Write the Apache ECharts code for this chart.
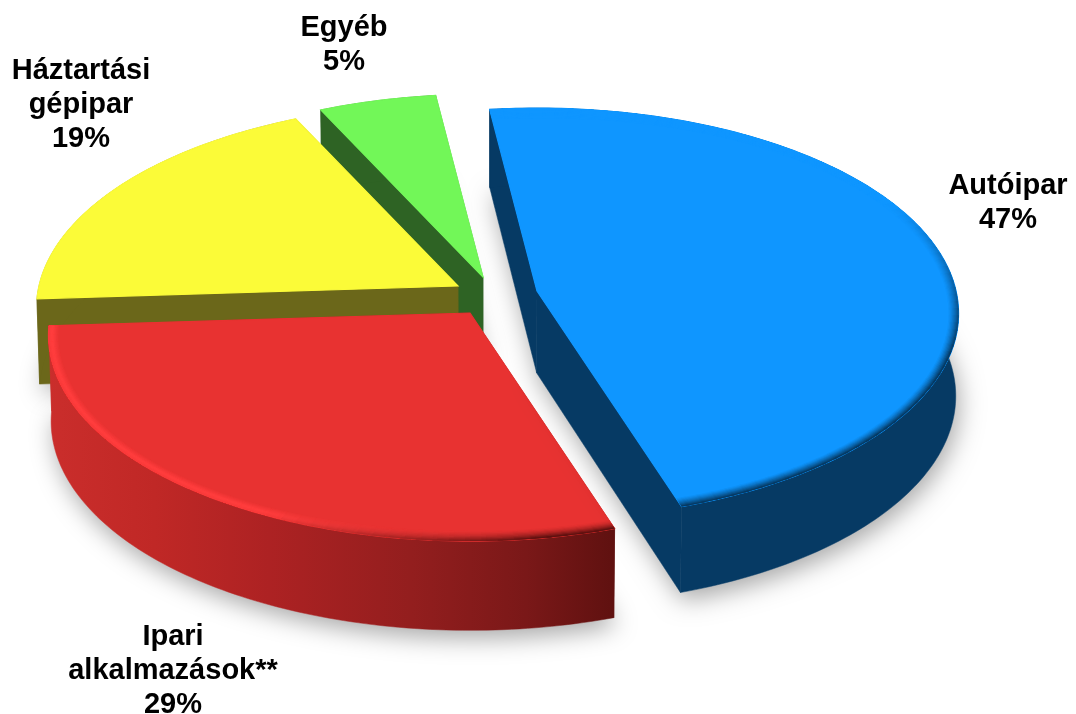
<!DOCTYPE html>
<html>
<head>
<meta charset="utf-8">
<style>html,body{margin:0;padding:0;background:#fff}#c{width:1076px;height:714px}</style>
<script src="https://cdn.jsdelivr.net/npm/echarts@6/dist/echarts.min.js"></script>
</head>
<body>
<div id="c"></div>
<script>
// ---- data
const categories = ['Autóipar', 'Ipari\nalkalmazások**', 'Háztartási\ngépipar', 'Egyéb'];
const values = [47, 29, 19, 5];
const percentLabels = ['47%', '29%', '19%', '5%'];

// ---- style
const topColors  = ['#0f96ff', '#e83231', '#fbfb38', '#72f758'];
const wallColors = ['#063a64', '#b02423', '#6b671a', '#2e6324'];
const rimColors  = ['#063a64', '#ff3d3d', null, null];
const labelCentres = [[1008, 203], [173, 671], [81, 105], [344, 45]];
const sliceOffsets = [[47, -5], [-20, 17], [-32, -10], [-7, -19]];
const sliceDepths = [82, 85, 85, 85];
const CX = 490, CY = 296, RX = 419, RY = 203, K = 0.11, START = -7.2;
const W = 1076, H = 714;

const total = values.reduce((a, b) => a + b, 0);
const starts = []; let acc = START;
values.forEach(v => { starts.push(acc); acc += v / total * 360; });

function pt(i, deg, r, down) {
  const t = deg * Math.PI / 180, u = r * Math.sin(t), v = -r * Math.cos(t), w = 1 - K * v;
  const ax = CX + sliceOffsets[i][0], ay = CY + sliceOffsets[i][1];
  let x = ax + RX * u / w, y = ay + RY * v / w;
  if (down) { x = CX + (x - CX) * 0.994; y += sliceDepths[i] * (1 + 0.05 * v); }
  return [x, y];
}
function arc(i, a0, a1, down) {
  const n = Math.max(4, Math.ceil(Math.abs(a1 - a0)));
  const out = [];
  for (let j = 0; j <= n; j++) out.push(pt(i, a0 + (a1 - a0) * j / n, 1, down));
  return out;
}
function hex(c) { return [1, 3, 5].map(p => parseInt(c.substr(p, 2), 16)); }
function mix(a, b, t) {
  t = Math.max(0, Math.min(1, t));
  const A = hex(a), B = hex(b);
  return '#' + A.map((x, j) => Math.round(x + (B[j] - x) * t).toString(16).padStart(2, '0')).join('');
}
function wallFill(i) {
  if (i !== 1) return wallColors[i];
  return new echarts.graphic.LinearGradient(40, 0, 612, 0, [
    { offset: 0, color: '#cb2e2c' },
    { offset: 0.2, color: '#c02826' },
    { offset: 0.4, color: '#ad2223' },
    { offset: 0.65, color: '#931e1e' },
    { offset: 0.85, color: '#7a1818' },
    { offset: 1, color: '#601110' }
  ], true);
}
function rimColor(i, deg, k, band) {
  const top = topColors[i], f = k / band;
  if (i === 0) {
    const a = Math.max(0, Math.min(1, (deg - 62) / 45));
    return mix(top, rimColors[0], a * Math.pow(1 - f, 1.3));
  }
  // red: bright highlight on the left, dark blur towards the right corner
  const dark = Math.max(0, Math.min(1, (205 - deg) / 35));
  const hi = f < 0.35 ? 0.75 + f : Math.max(0, (1 - f) / 0.65);
  const bright = mix(top, rimColors[1], hi * (1 - dark));
  return mix(bright, '#5f1110', Math.pow(1 - f, 1.6) * dark);
}
function renderSlice(params, api) {
  const i = api.value(0);
  const a0 = starts[i], a1 = a0 + api.value(1) / total * 360;
  const kids = [];
  const fill = wallFill(i);
  const apexT = pt(i, 0, 0, false), apexB = pt(i, 0, 0, true);
  const topArc = arc(i, a0, a1, false), botArc = arc(i, a0, a1, true);

  // soft shadow under the slice
  kids.push({ type: 'polygon', shape: { points: [apexB].concat(botArc) },
    style: { fill: '#ddd', shadowBlur: 24, shadowColor: 'rgba(0,0,0,0.34)', shadowOffsetX: 3, shadowOffsetY: 8 } });
  // side faces
  const last = topArc.length - 1;
  const face = (p, q, r, s) => ({ type: 'polygon', shape: { points: [p, q, r, s] }, style: { fill: fill, stroke: fill, lineWidth: 0.5 } });
  kids.push(face(apexT, topArc[last], botArc[last], apexB));
  kids.push(face(apexT, topArc[0], botArc[0], apexB));
  // outer wall
  kids.push({ type: 'polygon', shape: { points: topArc.concat(botArc.slice().reverse()) }, style: { fill: fill, stroke: fill, lineWidth: 0.5 } });
  // top surface
  kids.push({ type: 'polygon', shape: { points: [apexT].concat(topArc) }, style: { fill: topColors[i], stroke: topColors[i], lineWidth: 1.2 } });
  // bevel shading along the rim: widest layer first, narrower ones on top
  if (rimColors[i]) {
    const band = 10, dk = 1.25, step = 2;
    const inset = (deg, kk) => {
      const p = pt(i, deg, 1, false);
      const dx = p[0] - apexT[0], dy = p[1] - apexT[1], L = Math.hypot(dx, dy);
      return [p[0] - dx / L * kk, p[1] - dy / L * kk];
    };
    for (let k = band - dk; k >= 0; k -= dk) {
      for (let d = a0; d < a1 - 0.01; d += step) {
        const e = Math.min(a1, d + step + 0.6);
        kids.push({ type: 'polygon', shape: { points: [inset(d, k + dk), inset(e, k + dk), inset(e, 0), inset(d, 0)] },
          style: { fill: rimColor(i, d, k, band) } });
      }
    }
  }
  // label
  kids.push({ type: 'text', style: {
    text: categories[i] + '\n' + percentLabels[i],
    x: labelCentres[i][0], y: labelCentres[i][1], align: 'center', verticalAlign: 'middle',
    fontFamily: '"Liberation Sans", Arial, sans-serif', fontWeight: 'bold', fontSize: 29, lineHeight: 34, fill: '#000'
  } });
  return { type: 'group', children: kids };
}

const chart = echarts.init(document.getElementById('c'), null, { width: W, height: H, renderer: 'canvas' });
const drawOrder = [3, 2, 1, 0];
chart.setOption({
  animation: false,
  backgroundColor: '#fff',
  series: [{
    type: 'custom',
    coordinateSystem: 'none',
    silent: true,
    renderItem: renderSlice,
    data: drawOrder.map(i => [i, values[i]])
  }]
});
</script>
</body>
</html>
